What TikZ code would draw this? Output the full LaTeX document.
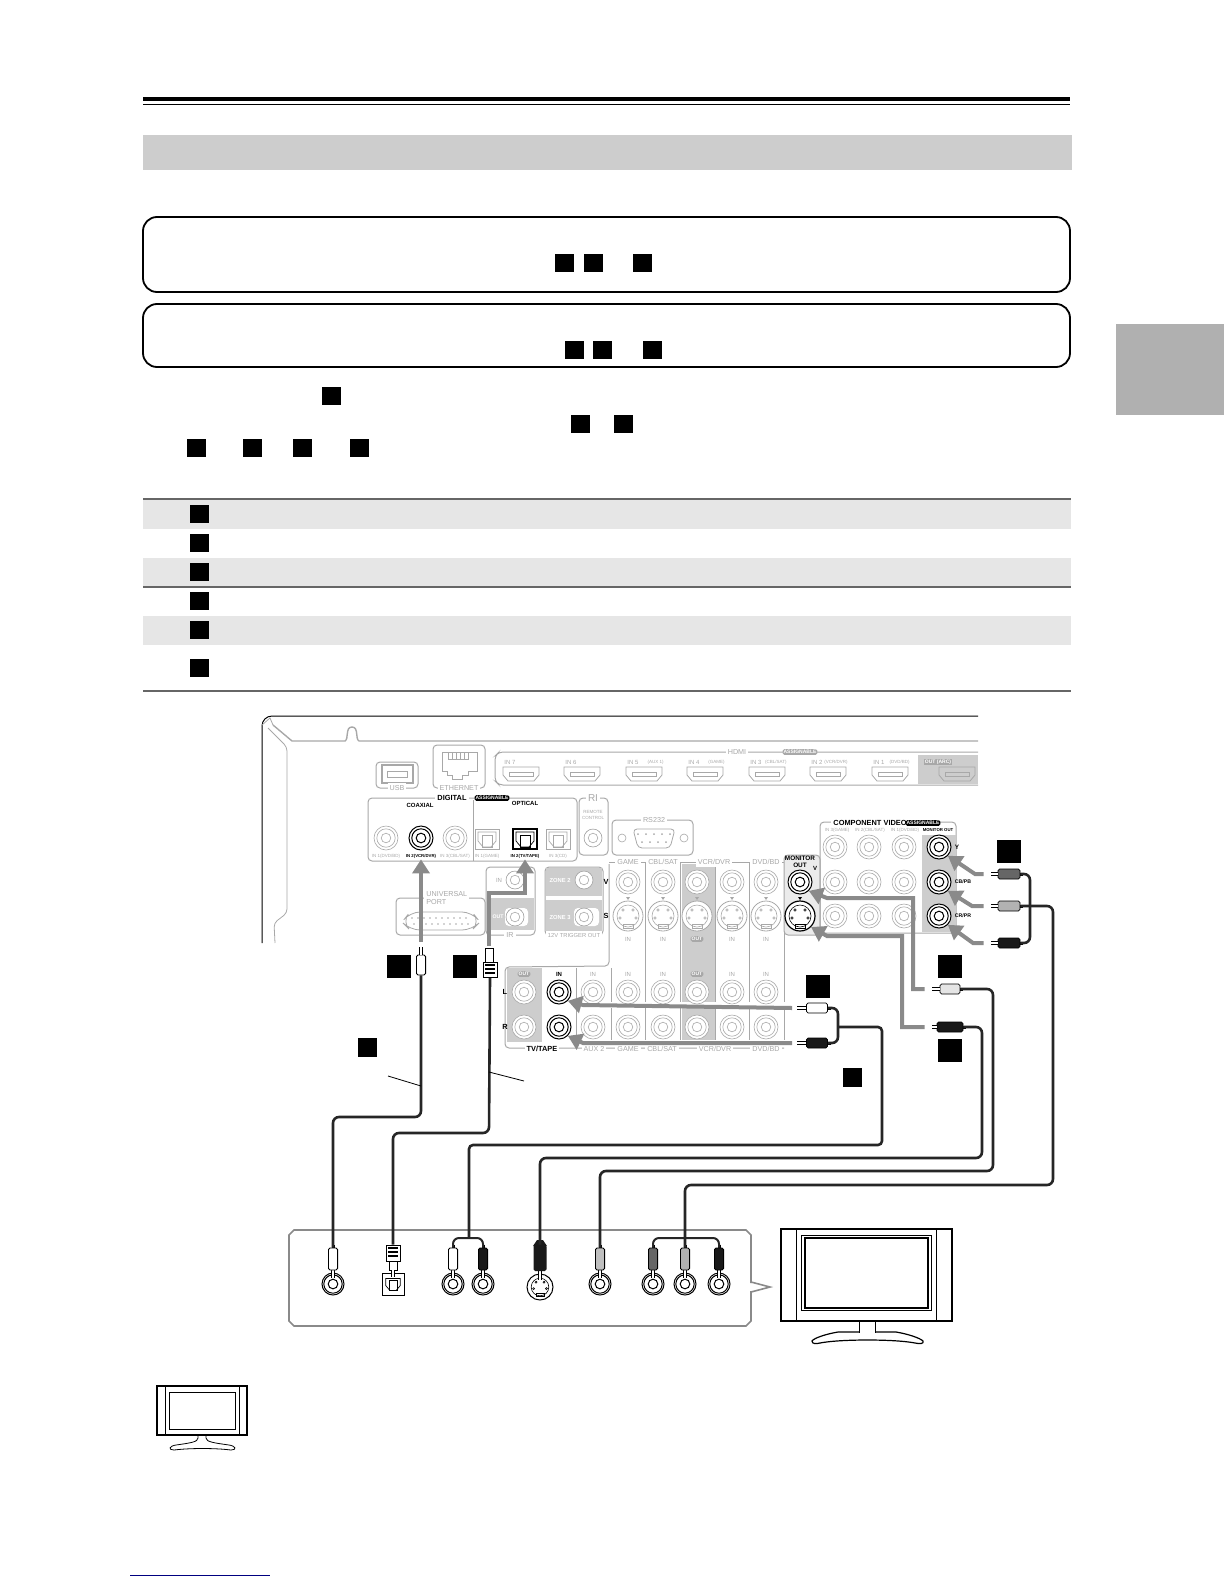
\documentclass[tikz,border=0pt]{standalone}
\usepackage{fontspec}
\setmainfont{Liberation Sans}
\usetikzlibrary{arrows.meta}
\definecolor{panelgray}{HTML}{A8A8A8}
\definecolor{fillgray}{HTML}{CDCDCD}
\definecolor{arrowgray}{HTML}{8A8A8A}
\definecolor{bandgray}{HTML}{E6E6E6}
\definecolor{tabgray}{HTML}{B0B0B0}
\definecolor{rulegray}{HTML}{666666}
\tikzset{
  panel/.style={draw=panelgray,line width=.5pt,rounded corners=2pt},
  lab/.style={font=\fontsize{3.6}{4}\selectfont,text=panelgray,inner sep=.5pt},
  inlab/.style={lab,font=\fontsize{3}{3.4}\selectfont},
  gaplab/.style={lab,fill=white,inner sep=1pt},
  tinylab/.style={lab,font=\fontsize{2.25}{2.6}\selectfont},
  blab/.style={font=\bfseries\fontsize{3.7}{3.9}\selectfont,text=black,inner sep=.5pt},
  tinyblab/.style={blab,font=\bfseries\fontsize{2.15}{2.5}\selectfont},
  badge/.style={font=\bfseries\fontsize{2.5}{3}\selectfont,text=white,fill=#1,rounded corners=.8pt,inner sep=.5pt},
  jackbase/.style 2 args={circle,draw=#1,fill=white,line width=#2,inner sep=0pt,minimum size=12pt,
    path picture={\draw[#1,line width=#2] (path picture bounding box.center) circle (2.4pt) circle (4.6pt);}},
  jack/.style={jackbase={panelgray}{.3pt}},
  jackon/.style={jackbase={black}{.5pt}},
  optbox/.style={rectangle,draw=#1,fill=white,line width=.4pt,inner sep=0pt,minimum width=12pt,minimum height=10pt},
  svbox/.style={circle,draw=#1,fill=white,line width=.4pt,inner sep=0pt,minimum size=15pt},
  vplug/.style={rectangle,draw=black,fill=#1,line width=.4pt,rounded corners=.8pt,inner sep=0pt,minimum width=4.6pt,minimum height=11pt},
  hplug/.style={rectangle,draw=black,fill=#1,line width=.4pt,rounded corners=.8pt,inner sep=0pt,minimum width=10.5pt,minimum height=5pt},
  plugtip/.style={draw=black,line width=.3pt,double=white,double distance=1pt},
  cable/.style={draw=black!85,line width=1.3pt,rounded corners=3pt},
  grayarrow/.style={draw=arrowgray,line width=2pt,-{Triangle[length=7pt,width=8.5pt]}},
  pics/hdmi/.style={code={
    \draw[panelgray,line width=.4pt] (-18,-7) -- (18,-7) -- (18,1) -- (13,7) -- (-13,7) -- (-18,1) -- cycle;
    \draw[panelgray,line width=.3pt] (-12,-2) rectangle (12,2);}},
  pics/optface/.style={code={
    \draw[line width=.35pt] (-9,-7) -- (9,-7) -- (9,2) -- (4,8) -- (-4,8) -- (-9,2) -- cycle;
    \draw[line width=.35pt] (-5,-4) rectangle (5,8);}},
  pics/svface/.style={code={
    \draw[line width=.3pt] (0,0) circle [radius=11];
    \foreach \px/\py in {-5/-6,5/-6,-8/2,8/2} \draw[line width=.3pt] (\px,\py) circle [radius=1.3];
    \draw[line width=.3pt] (-5,8) rectangle (5,12);}}
}
\begin{document}
\begin{tikzpicture}[x=.5pt,y=-.5pt]
\useasboundingbox (0,0) rectangle (1224,1584);
\draw [line width=2pt] (143,99) -- (1070,99);
\draw [line width=.5pt] (143,105) -- (1070,105);
\fill [fillgray] (143,135) rectangle (1072,170);
\draw [line width=.9pt,rounded corners=7pt] (143,217) rectangle (1070,292);
\draw [line width=.9pt,rounded corners=7pt] (143,304) rectangle (1070,367);
\fill [tabgray] (1116,324) rectangle (1224,415);
\foreach \xx/\yy in {555/254,584/254,633/254,565/341,593/341,643/341,322/387,571/415,614/415,187/439,243/439,293/439,350/439}
  \fill [black] (\xx,\yy) rectangle ++(19,18);
\fill [bandgray] (143,500) rectangle (1071,529);
\fill [bandgray] (143,558) rectangle (1071,586);
\fill [bandgray] (143,616) rectangle (1071,645);
\draw [rulegray,line width=1.3pt] (143,499) -- (1071,499);
\draw [rulegray,line width=.8pt] (143,587) -- (1071,587);
\draw [rulegray,line width=.9pt] (143,691) -- (1071,691);
\foreach \yy in {505,534,563,592,621,659}
  \fill [black] (190,\yy) rectangle ++(19,18);
\draw [line width=.5pt,rounded corners=5pt] (262,943) -- (262,716) -- (978,716);
\draw [panelgray,line width=.7pt] (273,725) -- (292,741) -- (345,741) .. controls (349,739) and (345,727) .. (352,727) .. controls (359,727) and (355,739) .. (359,741) -- (978,741);
\draw [panelgray,line width=.4pt] (262,725) -- (270,718) -- (273,725);
\draw [panelgray,line width=.4pt,rounded corners=2pt] (268,728) -- (287,747) -- (287,913) -- (274,923) -- (275,943);
\fill [fillgray] (918,755) rectangle (978,784);
\draw [panelgray,line width=.5pt,rounded corners=2pt] (978,752) -- (499,752) -- (495,756) -- (495,781) -- (499,785) -- (978,785);
\node [gaplab] (hdmilabel) at (737,752) {HDMI};
\node [badge=panelgray] (hdmibadge) at (800,752) {ASSIGNABLE};
\foreach \xx/\nm/\sb in {521/7/{},582/6/{},644/5/{(AUX 1)},705/4/{(GAME)},767/3/{(CBL/SAT)},828/2/{(VCR/DVR)},890/1/{(DVD/BD)}} {
  \pic at (\xx,774) {hdmi};
  \node [inlab,anchor=west] (hdmiin\nm) at (\xx-18,762.5) {IN \nm};
  \node [tinylab,anchor=east] (hdmisub\nm) at (\xx+21,762.5) {\sb};
}
\pic at (957,774) {hdmi};
\node [lab,text=white,fill=panelgray,font=\bfseries\fontsize{2.5}{3}\selectfont] (hdmiout) at (938,762) {OUT (ARC)};
\draw [panel] (376,762) rectangle (418,788);
\draw [panelgray,line width=.6pt] (382,765) rectangle (413,783);
\draw [panelgray,line width=.3pt] (387,771) rectangle (407,777);
\node [gaplab] (usblabel) at (397,788) {USB};
\draw [panel] (433,745) rectangle (485,788);
\draw [panelgray,line width=.4pt] (442,752) -- (477,752) -- (477,771) -- (468,771) -- (468,775) -- (462,775) -- (462,779) -- (452,779) -- (452,775) -- (447,775) -- (447,771) -- (442,771) -- cycle;
\draw [panelgray,line width=.3pt] (448,752) rectangle (468,759);
\foreach \xx in {452,456,460,464} \draw [panelgray,line width=.3pt] (\xx,752) -- (\xx,759);
\node [gaplab] (ethlabel) at (459,788) {ETHERNET};
\draw [panel] (368,798) rectangle (577,861);
\draw [panelgray,line width=.4pt] (473,800) -- (473,861);
\node [blab,fill=white,inner sep=1pt] (digitallabel) at (452,798) {DIGITAL};
\node [badge=black] (digitalbadge) at (492,798) {ASSIGNABLE};
\node [tinyblab,font=\bfseries\fontsize{3}{3.4}\selectfont] (coaxlabel) at (420,805) {COAXIAL};
\node [tinyblab,font=\bfseries\fontsize{3}{3.4}\selectfont] (optlabel) at (525,803) {OPTICAL};
\node [jack] (coax1) at (386,838) {};
\node [jackon] (coax2) at (421,838) {};
\node [jack] (coax3) at (455,838) {};
\node [tinylab] (coaxin1) at (386,856) {IN 1(DVD/BD)};
\node [tinyblab] (coaxin2) at (421,856) {IN 2(VCR/DVR)};
\node [tinylab] (coaxin3) at (455,856) {IN 3(CBL/SAT)};
\node [optbox=panelgray] (opt1) at (487,839) {};
\node [optbox=black,line width=.6pt] (opt2) at (525,839) {};
\node [optbox=panelgray] (opt3) at (558,839) {};
\pic [panelgray] at (opt1) {optface};
\pic [black] at (opt2) {optface};
\pic [panelgray] at (opt3) {optface};
\node [tinylab] (optin1) at (487,856) {IN 1(GAME)};
\node [tinyblab] (optin2) at (525,856) {IN 2(TV/TAPE)};
\node [tinylab] (optin3) at (558,856) {IN 3(CD)};
\draw [panel] (579,798) rectangle (608,855);
\node [gaplab,font=\fontsize{5}{5}\selectfont] (rilabel) at (593,798) {RI};
\node [tinylab,align=center] (remotelabel) at (593,815) {REMOTE\\CONTROL};
\node [jack,minimum size=9pt] (remotejack) at (593,838) {};
\draw [panel] (612,820) rectangle (693,855);
\node [gaplab] (rslabel) at (654,820) {RS232};
\draw [panelgray,line width=.4pt,rounded corners=2pt] (633,829) -- (675,829) -- (670,848) -- (638,848) -- cycle;
\foreach \xx in {638,646,654,662,670} \fill [panelgray] (\xx,834) circle [radius=1];
\foreach \xx in {642,650,658,666} \fill [panelgray] (\xx,842) circle [radius=1];
\node [circle,draw=panelgray,line width=.3pt,inner sep=0pt,minimum size=4pt] (rsleft) at (622,838) {};
\node [circle,draw=panelgray,line width=.3pt,inner sep=0pt,minimum size=4pt] (rsright) at (684,838) {};
\draw [panel] (396,898) rectangle (485,935);
\node [gaplab,align=left,anchor=west,fill=white] (univlabel) at (424,898) {UNIVERSAL\\PORT};
\draw [panelgray,line width=.4pt,rounded corners=5pt] (402,922) -- (410,912) -- (472,912) -- (480,922) -- (472,930) -- (410,930) -- cycle;
\foreach \xx in {412,418,424,430,436,442,448,454,460,466} {
  \fill [panelgray] (\xx,918) circle [radius=.8];
  \fill [panelgray] (\xx+2,924) circle [radius=.8];
}
\draw [panel] (486,867) rectangle (535,935);
\fill [fillgray] (487,898) rectangle (534,930);
\fill [white,rounded corners=2pt] (505,908) rectangle (528,926);
\node [inlab] (irin) at (499,880) {IN};
\node [jack,minimum size=9pt] (irinjack) at (515,880) {};
\node [inlab,text=white,font=\bfseries\fontsize{2.6}{3}\selectfont] (irout) at (498,917) {OUT};
\node [jack,minimum size=9pt] (iroutjack) at (515,917) {};
\node [gaplab] (irlabel) at (510,935) {IR};
\draw [panel] (545,867) rectangle (603,935);
\fill [fillgray] (546,868) rectangle (602,896);
\fill [fillgray] (546,900) rectangle (602,933);
\fill [white,rounded corners=2pt] (574,908) rectangle (599,926);
\node [lab,text=white,font=\bfseries\fontsize{2.9}{3}\selectfont] (zone2) at (560,880) {ZONE 2};
\node [lab,text=white,font=\bfseries\fontsize{2.9}{3}\selectfont] (zone3) at (560,917) {ZONE 3};
\node [jack,minimum size=9pt] (zone2jack) at (584,880) {};
\node [jack,minimum size=9pt] (zone3jack) at (584,917) {};
\node [gaplab,font=\fontsize{2.9}{4}\selectfont] (triglabel) at (574,935) {12V TRIGGER OUT};
\fill [fillgray] (682,864) rectangle (715,1002);
\fill [fillgray] (682,1008) rectangle (715,1040);
\fill [fillgray] (507,968) rectangle (542,1042);
\draw [panelgray,line width=.5pt,rounded corners=2pt] (609,864) -- (609,966) -- (505,967) -- (505,1048) -- (784,1048);
\draw [panelgray,line width=.5pt] (609,862) -- (784,862);
\foreach \xx in {645,680,715,749,784} {
  \draw [panelgray,line width=.4pt] (\xx,862) -- (\xx,1002);
  \draw [panelgray,line width=.4pt] (\xx,1008) -- (\xx,1040);
}
\foreach \xx in {576,611} {
  \draw [panelgray,line width=.4pt] (\xx,968) -- (\xx,1002);
  \draw [panelgray,line width=.4pt] (\xx,1008) -- (\xx,1040);
}
\node [gaplab] (gamelabel) at (628,862) {GAME};
\node [gaplab] (cbllabel) at (663,862) {CBL/SAT};
\node [gaplab] (vcrlabel) at (714,862) {VCR/DVR};
\node [gaplab] (dvdlabel) at (766,862) {DVD/BD};
\node [blab] (vlabel) at (606,882) {V};
\node [blab] (slabel) at (606,916) {S};
\foreach \xx in {628,663,697,732,766} {
  \node [jack] (v\xx) at (\xx,882) {};
  \fill [panelgray] (\xx-2,897) -- ++(4,0) -- ++(-2,3) -- cycle;
  \node [svbox=panelgray] (s\xx) at (\xx,916) {};
  \pic [panelgray] at (s\xx) {svface};
}
\foreach \xx in {628,663,732,766} \node [inlab] (vin\xx) at (\xx,939) {IN};
\node [badge=panelgray] (vout697) at (697,939) {OUT};
\draw [panel,fill=fillgray!40] (784,855) rectangle (820,935);
\node [blab,align=center,font=\bfseries\fontsize{3.2}{3.6}\selectfont] (monlabel) at (800,862) {MONITOR\\OUT};
\node [blab,font=\bfseries\fontsize{3}{3.4}\selectfont] (monv) at (815,868) {V};
\node [jackon] (monvjack) at (800,882) {};
\fill [black] (798,897) -- ++(4,0) -- ++(-2,3) -- cycle;
\node [svbox=black,line width=.6pt] (monsjack) at (800,916) {};
\pic [black] at (monsjack) {svface};
\draw [panel] (820,822) rectangle (956,933);
\fill [fillgray] (922,835) rectangle (956,932);
\node [blab,fill=white,inner sep=1pt] (complabel) at (870,823) {COMPONENT VIDEO};
\node [badge=black] (compbadge) at (923,823) {ASSIGNABLE};
\node [tinylab] (compin3) at (837,830) {IN 3(GAME)};
\node [tinylab] (compin2) at (870,830) {IN 2(CBL/SAT)};
\node [tinylab] (compin1) at (905,830) {IN 1(DVD/BD)};
\node [tinyblab] (compout) at (938,830) {MONITOR OUT};
\foreach \xx in {835,869,904} \foreach \yy in {847,882,916}
  \node [jack] (c\xx\yy) at (\xx,\yy) {};
\node [jackon] (compy) at (939,847) {};
\node [jackon] (compb) at (939,882) {};
\node [jackon] (compr) at (939,916) {};
\node [blab,font=\bfseries\fontsize{3.2}{3.4}\selectfont] (ylabel) at (957,847) {Y};
\node [blab,font=\bfseries\fontsize{2.6}{3}\selectfont] (cblabel) at (963,882) {CB/PB};
\node [blab,font=\bfseries\fontsize{2.6}{3}\selectfont] (crlabel) at (963,916) {CR/PR};
\foreach \xx in {524,697} \node [badge=panelgray] (aout\xx) at (\xx,974) {OUT};
\node [blab,font=\bfseries\fontsize{3}{3.4}\selectfont] (ainon) at (559,974) {IN};
\foreach \xx in {593,628,663,732,766} \node [inlab] (ain\xx) at (\xx,974) {IN};
\foreach \xx in {524,593,628,663,697,732,766} {
  \node [jack] (al\xx) at (\xx,992) {};
  \node [jack] (ar\xx) at (\xx,1027) {};
}
\node [jackon] (alon) at (559,992) {};
\node [jackon] (aron) at (559,1027) {};
\node [blab] (llabel) at (505,992) {L};
\node [blab] (rlabel) at (505,1027) {R};
\node [blab,fill=white,inner sep=1pt] (tapelabel) at (542,1049) {TV/TAPE};
\node [gaplab] (auxlabel) at (594,1049) {AUX 2};
\node [gaplab] (gamelow) at (628,1049) {GAME};
\node [gaplab] (cbllow) at (662,1049) {CBL/SAT};
\node [gaplab] (vcrlow) at (715,1049) {VCR/DVR};
\node [gaplab] (dvdlow) at (766,1049) {DVD/BD};
\node [vplug=white,minimum height=10pt] (coaxtop) at (421,965) {};
\draw [plugtip] (coaxtop.north) -- ++(0,-8) coordinate (coaxtip);
\node [rectangle,draw=black,fill=white,line width=.4pt,inner sep=0pt,minimum width=4pt,minimum height=7pt] (optneck) at (489,955) {};
\node [rectangle,draw=black,fill=white,line width=.5pt,inner sep=0pt,minimum width=7pt,minimum height=7.5pt] (opttop) at (490,970) {};
\foreach \yy in {965,969,973} \draw [line width=.6pt] (485,\yy) -- (495,\yy);
\draw [grayarrow,shorten <=2.5pt] (coaxtip) -- (coaxin2.south);
\draw [grayarrow,shorten <=1pt] (optneck.north) |- (525,893) -- (optin2.south);
\foreach \nm/\yy/\cc in {pcy/874/black!60,pcb/906/black!30,pcr/943/black!90} {
  \node [hplug=\cc,minimum width=11pt] (\nm) at (1009,\yy) {};
  \draw [plugtip] (\nm.west) -- ++(-7,0);
  \draw [line width=1.5pt] (\nm.east) -- ++(3,0);
}
\draw [grayarrow,shorten <=3.5pt] (pcy.west) ++(-7,0) -- (975,874) -- (compy.south east);
\draw [grayarrow,shorten <=3.5pt] (pcb.west) ++(-7,0) -- (972,906) -- (compb.south east);
\draw [grayarrow,shorten <=3.5pt] (pcr.west) ++(-7,0) -- (973,943) -- (compr.south east);
\node [hplug=black!10,minimum width=10pt] (cvtop) at (950,989) {};
\draw [plugtip] (cvtop.west) -- ++(-8,0);
\draw [line width=1.5pt] (cvtop.east) -- ++(3,0);
\node [hplug=black!90,minimum width=13pt] (svtop) at (950,1027) {};
\draw [plugtip] (svtop.west) -- ++(-5,0);
\draw [line width=1.5pt] (svtop.east) -- ++(3,0);
\draw [grayarrow,shorten <=3.5pt] (cvtop.west) ++(-8,0) -- (913,989) -- (913,898) -- (827,898) -- (monvjack.south east);
\draw [grayarrow,shorten <=3.5pt] (svtop.west) ++(-5,0) -- (902,1027) -- (902,936) -- (827,936) -- (monsjack.south east);
\node [hplug=white] (altop) at (817,1008) {};
\draw [plugtip] (altop.west) -- ++(-9,0);
\draw [line width=1.5pt] (altop.east) -- ++(3,0);
\node [hplug=black!90] (artop) at (817,1043) {};
\draw [plugtip] (artop.west) -- ++(-9,0);
\draw [line width=1.5pt] (artop.east) -- ++(3,0);
\draw [grayarrow] (altop.west) ++(-14,0) -- (583,1005) -- (alon.south east);
\draw [grayarrow] (artop.west) ++(-14,0) -- (583,1043) -- (aron.south east);
\foreach \xx/\yy in {997/840,938/955,938/1039,387/955,453/955,806/975}
  \fill [black] (\xx,\yy) rectangle ++(24,23);
\fill [black] (843,1068) rectangle ++(19,19);
\fill [black] (358,1038) rectangle ++(19,19);
\draw [arrowgray,line width=.8pt,fill=white] (751,1282) -- (770,1287) -- (751,1292);
\draw [arrowgray,line width=.8pt] (751,1283) -- (751,1235) -- (746,1230) -- (294,1230) -- (289,1235) -- (289,1321) -- (294,1326) -- (746,1326) -- (751,1321) -- (751,1291);
\foreach \nm/\xx/\cc in {coaxbot/333/white,rcal/453/white,rcar/483/black!90,cvbot/600/black!25,cpy/653/black!60,cpb/685/black!30,cpr/719/black!90} {
  \node [jackon,minimum size=11pt] (\nm jack) at (\xx,1284) {};
  \draw [plugtip] (\xx,1270) -- (\xx,1278);
  \node [vplug=\cc] (\nm) at (\xx,1259) {};
  \draw [line width=1.5pt] (\nm.north) -- ++(0,-3);
}
\node [optbox=black,minimum width=11pt,minimum height=11pt] (optbotjack) at (393,1284) {};
\pic [black,scale=.8] at (optbotjack) {optface};
\node [rectangle,draw=black,fill=white,line width=.4pt,inner sep=0pt,minimum width=4pt,minimum height=5pt] (optbotneck) at (393,1265) {};
\draw [plugtip] (optbotneck.south) -- (393,1277);
\node [rectangle,draw=black,fill=white,line width=.5pt,inner sep=0pt,minimum width=7pt,minimum height=8pt] (optbot) at (393,1253) {};
\foreach \yy in {1248,1252,1256} \draw [line width=.6pt] (388,\yy) -- (398,\yy);
\node [svbox=black,line width=.5pt,minimum size=13pt] (svbotjack) at (540,1287) {};
\pic [black,scale=.8] at (svbotjack) {svface};
\draw [plugtip] (540,1270) -- (540,1280);
\node [rectangle,fill=black!90,rounded corners=.8pt,inner sep=0pt,minimum width=6.5pt,minimum height=13pt] (svbot) at (540,1258) {};
\fill [black!90] (533,1246) -- (537,1240) -- (543,1240) -- (547,1246) -- cycle;
\draw [cable] (coaxtop.south) |- (333,1117) -- (coaxbot.north);
\draw [cable] (opttop.south) -- (489,1133) -| (optbot.north);
\draw [cable] (altop.east) -| (838,1043) -- (artop.east);
\draw [cable,rounded corners=2pt] (838,1027) -- (882,1027) |- (469,1145) -- (469,1238);
\draw [cable,line width=1pt] (rcal.north) |- (483,1238) -- (rcar.north);
\draw [cable] (svtop.east) -| (982,1158) -| (svbot.north);
\draw [cable] (cvtop.east) -| (993,1171) -| (cvbot.north);
\draw [cable] (pcy.east) -| (1030,943) -- (pcr.east);
\draw [cable] (pcb.east) -| (1053,1185) -| (cpb.north);
\draw [cable,line width=1pt] (cpy.north) |- (719,1238) -- (cpr.north);
\draw [line width=.4pt] (388,1076) -- (421,1086);
\draw [line width=.4pt] (489,1072) -- (524,1081);
\draw [line width=.8pt] (781,1229) rectangle (952,1321);
\draw [line width=.4pt] (796.5,1229) -- (796.5,1321);
\draw [line width=.4pt] (936,1229) -- (936,1321);
\draw [line width=.4pt] (801,1235) rectangle (931,1310);
\draw [line width=.6pt] (805,1238) rectangle (928,1308);
\draw [line width=.4pt] (859,1321) -- (859,1333);
\draw [line width=.4pt] (875,1321) -- (875,1333);
\draw [line width=.6pt] (859,1332) -- (838,1332) .. controls (826,1334) and (814,1338) .. (812,1341) .. controls (812,1344) and (816,1344) .. (820,1343) .. controls (840,1339) and (895,1339) .. (915,1343) .. controls (920,1344) and (924,1344) .. (923,1341) .. controls (920,1338) and (908,1334) .. (896,1332) -- (875,1332);
\draw [line width=.8pt] (157,1386) rectangle (247,1435);
\draw [line width=.5pt] (165,1386) -- (165,1435);
\draw [line width=.5pt] (239,1386) -- (239,1435);
\draw [line width=.5pt] (169,1392) rectangle (235,1429);
\draw [line width=.4pt] (198,1435) -- (198,1438) .. controls (198,1442) and (190,1443) .. (176,1445) .. controls (169,1446) and (168,1450) .. (174,1450) .. controls (190,1448) and (215,1448) .. (231,1450) .. controls (237,1450) and (236,1446) .. (229,1445) .. controls (215,1443) and (206,1442) .. (206,1438) -- (206,1435);
\draw [blue!50!black,line width=.5pt] (130,1575) -- (270,1575);
\end{tikzpicture}
\end{document}
